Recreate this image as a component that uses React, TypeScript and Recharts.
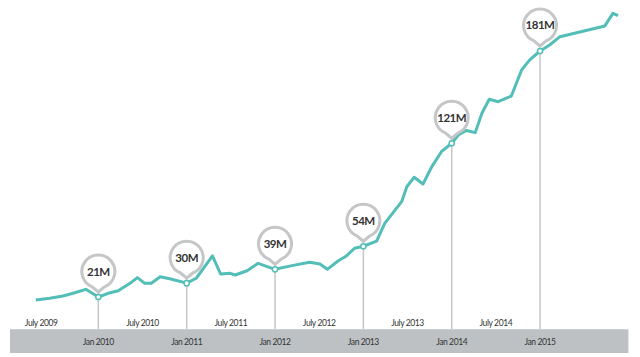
import {
  LineChart,
  Line,
  XAxis,
  YAxis,
  ReferenceArea,
  ReferenceLine,
  ReferenceDot,
} from "recharts"

// months counted from Jan 2009 (0) — users in millions
const months = [
  3.5, 5.4, 7.2, 8.8, 10.3, 12, 13.6, 14.7, 16.3, 17.3, 18.3, 19.2, 20.4, 21.7,
  24, 25.3, 27.5, 28.6, 29.9, 30.6, 32.2, 33.7, 36, 38.3, 40.7, 42.1, 43.1,
  44.6, 45.7, 46.8, 48, 49.8, 50.9, 53.2, 53.9, 54.9, 56.1, 57.3, 58.6, 60,
  60.9, 62, 63.2, 64.1, 65.1, 66.3, 68.1, 69.5, 70.6, 72, 73.3, 74.7, 80.8,
  81.9, 82.6,
]
const users = [
  19.1, 20.2, 21.7, 23.8, 26.0, 21, 23.8, 25.1, 29.9, 33.6, 29.9, 29.9, 34.2,
  32.9, 30, 33.2, 47.7, 36.0, 36.4, 35.3, 38.1, 42.9, 39, 41.4, 43.6, 42.5,
  39.0, 44.6, 47.7, 52.7, 54, 57.4, 68.9, 83.0, 92.7, 98.9, 94.5, 105.8, 115.5,
  121, 126.4, 129.3, 127.9, 140.5, 149.6, 148.0, 151.7, 168.7, 175.2, 181,
  184.9, 190.3, 197.3, 205.5, 204,
]

const calloutMonths = [12, 24, 36, 48, 60, 72]
const calloutValues = [21, 30, 39, 54, 121, 181]
const calloutLabels = ["21M", "30M", "39M", "54M", "121M", "181M"]

const tickMonths = [6, 12, 18, 24, 30, 36, 42, 48, 54, 60, 66, 72]
const tickLabels = [
  "July 2009",
  "Jan 2010",
  "July 2010",
  "Jan 2011",
  "July 2011",
  "Jan 2012",
  "July 2012",
  "Jan 2013",
  "July 2013",
  "Jan 2014",
  "July 2014",
  "Jan 2015",
]

const data = months.map((m, i) => ({ m, v: users[i] }))

const TEAL = "#52BEB7"
const GREY = "#C4C6C8"
const FONT = "Lato, 'Open Sans', sans-serif"

function AxisTick(props: any) {
  const { x, y, payload, index } = props
  const isJan = payload.value % 12 === 0
  const dx = index === 0 ? -13 : 0
  return (
    <text
      x={x + dx}
      y={isJan ? y + 16 : y - 3}
      textAnchor="middle"
      fontFamily={FONT}
      fontSize={8.5}
      letterSpacing={-0.4}
      fill="#333"
    >
      {tickLabels[index]}
    </text>
  )
}

function Pin(props: any) {
  const { cx, cy, label } = props
  const r = 16.5
  const c = cy - 25.5
  const tipY = c + r + 4
  const a = 0.38
  const lx = cx - r * Math.sin(a)
  const rx = cx + r * Math.sin(a)
  const ly = c + r * Math.cos(a)
  return (
    <g>
      <line x1={cx} y1={tipY} x2={cx} y2={cy} stroke={GREY} strokeWidth={1.5} />
      <path
        d={`M ${rx} ${ly} A ${r} ${r} 0 1 0 ${lx} ${ly} L ${cx} ${tipY} Z`}
        fill="#fff"
        stroke={GREY}
        strokeWidth={3}
        strokeLinejoin="round"
      />
      <text
        x={cx}
        y={c + 4}
        textAnchor="middle"
        fontFamily={FONT}
        fontWeight={700}
        fontSize={11.5}
        letterSpacing={-0.5}
        fill="#333"
      >
        {label}
      </text>
      <circle cx={cx} cy={cy} r={2.6} fill="#fff" stroke={TEAL} strokeWidth={1.5} />
    </g>
  )
}

export default function App() {
  return (
    <div style={{ width: 640, height: 357, background: "#fff" }}>
      <style>{`body{margin:0}`}</style>
      <LineChart
        width={640}
        height={357}
        data={data}
        margin={{ top: 6.4, right: 11.6, bottom: 0, left: 10 }}
      >
        <XAxis
          dataKey="m"
          type="number"
          domain={[0, 84]}
          ticks={tickMonths}
          height={27.7}
          axisLine={false}
          tickLine={false}
          tickSize={0}
          tickMargin={0}
          interval={0}
          tick={<AxisTick />}
        />
        <YAxis hide domain={[0, 210]} />
        <ReferenceArea
          x1={0}
          x2={84}
          y1={-15.4}
          y2={0}
          ifOverflow="visible"
          fill="#BDC1C4"
          fillOpacity={1}
          stroke="none"
        />
        {calloutMonths.map((m, i) => (
          <ReferenceLine
            key={"l" + m}
            segment={[
              { x: m, y: 0 },
              { x: m, y: calloutValues[i] },
            ]}
            stroke={GREY}
            strokeWidth={1.5}
          />
        ))}
        <Line
          type="linear"
          dataKey="v"
          stroke={TEAL}
          strokeWidth={3}
          strokeLinejoin="round"
          dot={false}
          isAnimationActive={false}
        />
        {calloutMonths.map((m, i) => (
          <ReferenceDot
            key={"p" + m}
            x={m}
            y={calloutValues[i]}
            ifOverflow="visible"
            shape={(p: any) => <Pin {...p} label={calloutLabels[i]} />}
          />
        ))}
      </LineChart>
    </div>
  )
}
